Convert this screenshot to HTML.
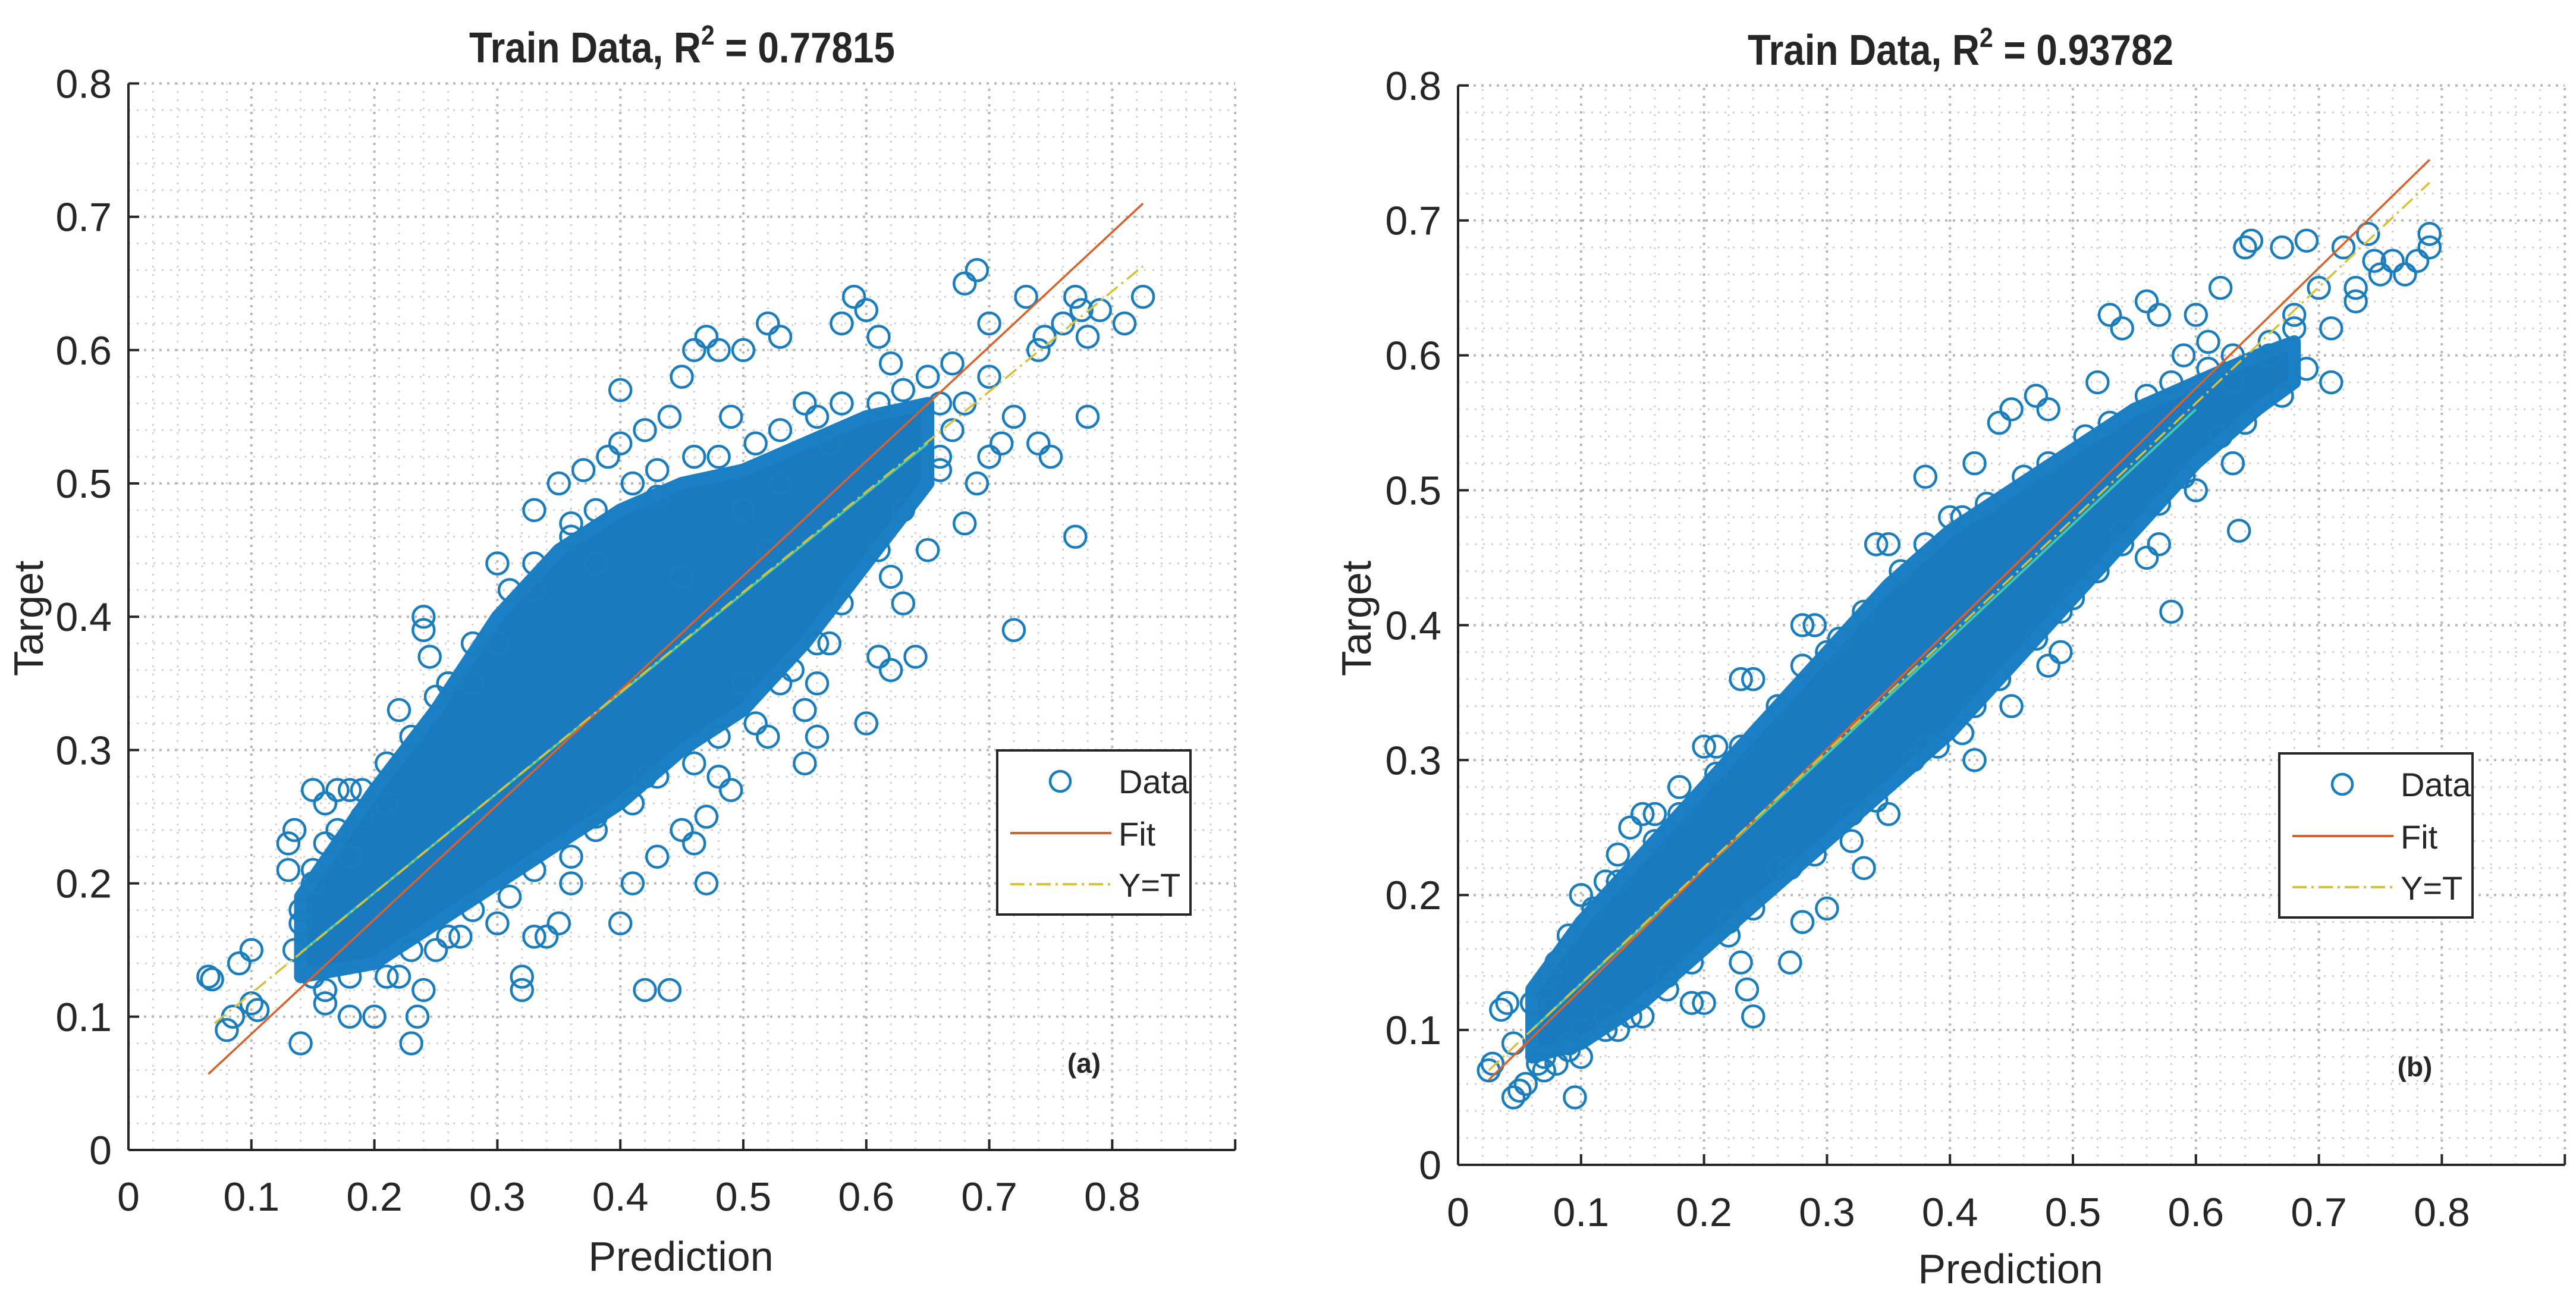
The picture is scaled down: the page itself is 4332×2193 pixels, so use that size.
<!DOCTYPE html>
<html><head><meta charset="utf-8"><style>
html,body{margin:0;padding:0;background:#fff;}
svg{display:block;}
text{font-family:"Liberation Sans",Arial,sans-serif;fill:#262626;}
</style></head><body>
<svg id="fig" width="4332" height="2193" viewBox="0 0 4332 2193" xmlns="http://www.w3.org/2000/svg"></svg>
<script>
// ---- data ----
const xTicks=[0,0.1,0.2,0.3,0.4,0.5,0.6,0.7,0.8];
const yTicks=[0,0.1,0.2,0.3,0.4,0.5,0.6,0.7,0.8];
const xTickLabels=["0","0.1","0.2","0.3","0.4","0.5","0.6","0.7","0.8"];
const yTickLabels=["0","0.1","0.2","0.3","0.4","0.5","0.6","0.7","0.8"];
const titlesR2=["0.77815","0.93782"];
// panel a dense core band
const coreAX=[0.14,0.2,0.25,0.3,0.35,0.4,0.45,0.5,0.55,0.6,0.65];
const coreALo=[0.13,0.14,0.17,0.2,0.23,0.26,0.3,0.33,0.38,0.44,0.5];
const coreAHi=[0.19,0.27,0.33,0.4,0.45,0.48,0.5,0.51,0.53,0.55,0.56];
const outAX=[0.065,0.068,0.08,0.085,0.09,0.1,0.1,0.105,0.13,0.135,0.13,0.14,0.15,0.16,0.17,0.18,0.19,0.2,0.21,0.22,0.23,0.235,0.24,0.24,0.24,0.245,0.25,0.26,0.3,0.32,0.32,0.33,0.34,0.35,0.33,0.35,0.37,0.39,0.4,0.4,0.42,0.42,0.44,0.4,0.41,0.44,0.45,0.46,0.47,0.48,0.5,0.52,0.53,0.49,0.47,0.46,0.47,0.48,0.49,0.43,0.45,0.55,0.56,0.56,0.57,0.58,0.59,0.6,0.61,0.62,0.6,0.61,0.62,0.63,0.62,0.64,0.65,0.65,0.67,0.68,0.68,0.69,0.7,0.7,0.69,0.7,0.71,0.72,0.72,0.73,0.74,0.745,0.76,0.77,0.775,0.78,0.79,0.81,0.825,0.77,0.78,0.74,0.75,0.68,0.66,0.57,0.55,0.53,0.5,0.52,0.43,0.45,0.38,0.3,0.28,0.33,0.36,0.55,0.52,0.54,0.5,0.42,0.38,0.36,0.3,0.27,0.25,0.22,0.18,0.16,0.15,0.14,0.15,0.16,0.18];
const outAY=[0.13,0.128,0.09,0.1,0.14,0.15,0.11,0.105,0.23,0.24,0.21,0.08,0.27,0.26,0.27,0.27,0.25,0.1,0.26,0.33,0.08,0.1,0.12,0.39,0.4,0.37,0.34,0.35,0.44,0.12,0.13,0.16,0.16,0.17,0.48,0.5,0.51,0.52,0.53,0.57,0.54,0.12,0.12,0.17,0.2,0.55,0.58,0.6,0.61,0.6,0.6,0.62,0.61,0.55,0.2,0.23,0.25,0.28,0.27,0.22,0.24,0.33,0.31,0.35,0.38,0.62,0.64,0.63,0.61,0.59,0.32,0.37,0.36,0.41,0.43,0.37,0.45,0.58,0.59,0.56,0.65,0.66,0.62,0.58,0.5,0.52,0.53,0.55,0.39,0.64,0.6,0.61,0.62,0.64,0.63,0.61,0.63,0.62,0.64,0.46,0.55,0.53,0.52,0.47,0.52,0.53,0.56,0.5,0.48,0.45,0.49,0.43,0.44,0.38,0.35,0.42,0.47,0.29,0.31,0.36,0.35,0.28,0.24,0.2,0.17,0.16,0.15,0.13,0.1,0.11,0.13,0.18,0.21,0.23,0.22];
const edgeAX=[0.15,0.17,0.19,0.21,0.23,0.26,0.28,0.31,0.33,0.36,0.38,0.41,0.43,0.46,0.48,0.51,0.53,0.56,0.58,0.61,0.63,0.66,0.16,0.18,0.21,0.23,0.26,0.28,0.31,0.33,0.36,0.38,0.41,0.43,0.46,0.48,0.51,0.53,0.56,0.58,0.61,0.63,0.66,0.67,0.135,0.14];
const edgeAY=[0.2,0.24,0.27,0.29,0.31,0.35,0.38,0.42,0.44,0.46,0.48,0.5,0.51,0.52,0.52,0.53,0.54,0.55,0.56,0.56,0.57,0.56,0.12,0.13,0.13,0.15,0.16,0.18,0.19,0.21,0.22,0.25,0.26,0.28,0.29,0.31,0.32,0.35,0.38,0.41,0.45,0.48,0.51,0.54,0.15,0.17];
const fitA=[[0.065,0.057],[0.825,0.71]];
const ytA=[[0.07,0.095],[0.825,0.663]];
const midA=[[0.14,0.148],[0.65,0.53]];
// panel b
const coreBX=[0.06,0.1,0.15,0.2,0.25,0.3,0.35,0.4,0.45,0.5,0.55,0.6,0.65,0.68];
const coreBLo=[0.08,0.09,0.12,0.16,0.2,0.24,0.28,0.32,0.37,0.42,0.47,0.52,0.56,0.58];
const coreBHi=[0.13,0.18,0.23,0.28,0.33,0.38,0.43,0.47,0.5,0.53,0.56,0.58,0.6,0.61];
const outBX=[0.025,0.028,0.035,0.04,0.045,0.045,0.05,0.055,0.065,0.07,0.075,0.07,0.08,0.09,0.095,0.1,0.09,0.1,0.12,0.13,0.14,0.15,0.16,0.18,0.2,0.21,0.23,0.24,0.26,0.28,0.29,0.3,0.34,0.35,0.38,0.4,0.42,0.44,0.45,0.47,0.48,0.52,0.53,0.54,0.56,0.57,0.59,0.6,0.61,0.62,0.63,0.64,0.645,0.67,0.69,0.7,0.71,0.72,0.73,0.74,0.745,0.75,0.76,0.77,0.78,0.79,0.79,0.73,0.71,0.68,0.66,0.63,0.635,0.6,0.58,0.57,0.56,0.54,0.52,0.5,0.49,0.48,0.47,0.45,0.44,0.42,0.41,0.38,0.35,0.34,0.33,0.32,0.3,0.28,0.27,0.26,0.24,0.235,0.23,0.22,0.2,0.19,0.17,0.15,0.13,0.12,0.1];
const outBY=[0.07,0.075,0.115,0.12,0.09,0.05,0.055,0.06,0.075,0.13,0.14,0.07,0.075,0.09,0.05,0.08,0.17,0.2,0.21,0.23,0.25,0.26,0.26,0.28,0.31,0.31,0.36,0.36,0.34,0.4,0.4,0.38,0.46,0.46,0.51,0.48,0.52,0.55,0.56,0.57,0.56,0.58,0.63,0.62,0.64,0.63,0.6,0.63,0.61,0.65,0.58,0.68,0.685,0.68,0.685,0.65,0.62,0.68,0.65,0.69,0.67,0.66,0.67,0.66,0.67,0.69,0.68,0.64,0.58,0.63,0.6,0.52,0.47,0.5,0.41,0.46,0.45,0.47,0.44,0.42,0.38,0.37,0.39,0.34,0.36,0.3,0.32,0.31,0.26,0.27,0.22,0.24,0.19,0.18,0.15,0.22,0.11,0.13,0.15,0.18,0.12,0.12,0.14,0.11,0.1,0.11,0.1];
const edgeBX=[0.06,0.08,0.11,0.13,0.16,0.18,0.21,0.23,0.26,0.28,0.31,0.33,0.36,0.38,0.41,0.43,0.46,0.48,0.51,0.53,0.56,0.58,0.61,0.63,0.66,0.68,0.07,0.09,0.12,0.14,0.17,0.19,0.22,0.24,0.27,0.29,0.32,0.34,0.37,0.39,0.42,0.44,0.47,0.49,0.52,0.54,0.57,0.59,0.62,0.64,0.67,0.69];
const edgeBY=[0.12,0.15,0.19,0.21,0.24,0.26,0.29,0.31,0.34,0.37,0.39,0.41,0.44,0.46,0.48,0.49,0.51,0.52,0.54,0.55,0.57,0.58,0.59,0.6,0.61,0.62,0.08,0.085,0.1,0.11,0.13,0.15,0.17,0.19,0.22,0.23,0.26,0.27,0.3,0.31,0.34,0.36,0.39,0.41,0.44,0.46,0.49,0.51,0.54,0.55,0.57,0.59];
const fitB=[[0.025,0.063],[0.79,0.745]];
const ytB=[[0.025,0.07],[0.79,0.728]];
const midB=[[0.06,0.1],[0.6,0.56]];

const NS="http://www.w3.org/2000/svg";
const svg=document.getElementById('fig');
function mk(tag,attrs,parent){const e=document.createElementNS(NS,tag);for(const k in attrs)e.setAttribute(k,attrs[k]);(parent||svg).appendChild(e);return e;}

function panel(o){
  const g=mk('g',{});
  
  
  const sx=v=>o.x0+v*o.px*10;
  const sy=v=>o.y0-v*o.py*10;
  for(let i=0;i<=45;i++){const v=i*0.02;if(i%5===0)continue;
    mk('line',{x1:sx(v),y1:sy(0),x2:sx(v),y2:sy(0.8),stroke:'#d0d0d0','stroke-width':3,'stroke-dasharray':'3 11'},g);}
  for(let i=0;i<=40;i++){const v=i*0.02;if(i%5===0)continue;
    mk('line',{x1:sx(0),y1:sy(v),x2:sx(0.9),y2:sy(v),stroke:'#d0d0d0','stroke-width':3,'stroke-dasharray':'3 11'},g);}
  for(let i=1;i<=9;i++){const v=i*0.1;
    const l=mk('line',{x1:sx(v),y1:sy(0),x2:sx(v),y2:sy(0.8),stroke:'#b8b8b8','stroke-width':4,'stroke-dasharray':'4 9'},g);
    }
  for(let i=1;i<=8;i++){const v=i*0.1;
    const l=mk('line',{x1:sx(0),y1:sy(v),x2:sx(0.9),y2:sy(v),stroke:'#b8b8b8','stroke-width':4,'stroke-dasharray':'4 9'},g);
    }
  let pts=[];
  o.cx.forEach((x,i)=>pts.push(sx(x)+','+sy(o.chi[i])));
  for(let i=o.cx.length-1;i>=0;i--)pts.push(sx(o.cx[i])+','+sy(o.clo[i]));
  const core=mk('polygon',{points:pts.join(' '),fill:'#1b79c0',stroke:'#1a7fc4','stroke-width':22,'stroke-linejoin':'round'},g);
  
  
  const allX=o.ox.concat(o.ex), allY=o.oy.concat(o.ey);
  allX.forEach((x,i)=>{
    const c=mk('circle',{cx:sx(x),cy:sy(allY[i]),r:18,fill:'none',stroke:'#1a7dbd','stroke-width':4.5},g);
    
    
  });
  const ln=(p,st,w,dash,nm)=>{const l=mk('line',{x1:sx(p[0][0]),y1:sy(p[0][1]),x2:sx(p[1][0]),y2:sy(p[1][1]),stroke:st,'stroke-width':w},g);if(dash)l.setAttribute('stroke-dasharray',dash);
    
    };
  ln(o.mid,'#3fc7b0',4,null,'center-line');
  ln(o.fit,'#d9622b',3.5,null,'fit-line');
  ln(o.yt,'#d6c23a',3.5,'24 8 4 8','y-equals-t-line');
  const ax=mk('line',{x1:sx(0),y1:sy(0),x2:sx(0.9),y2:sy(0),stroke:'#262626','stroke-width':4},g);
  
  const ay=mk('line',{x1:sx(0),y1:sy(0),x2:sx(0),y2:sy(0.8),stroke:'#262626','stroke-width':4},g);
  
  xTicks.forEach((v,i)=>{
    mk('line',{x1:sx(v),y1:sy(0),x2:sx(v),y2:sy(0)-18,stroke:'#262626','stroke-width':4},g);
    const t=mk('text',{x:sx(v),y:o.xlabY,'text-anchor':'middle','font-size':68},g);t.textContent=xTickLabels[i];
    
  });
  mk('line',{x1:sx(0.9),y1:sy(0),x2:sx(0.9),y2:sy(0)-18,stroke:'#262626','stroke-width':4},g);
  yTicks.forEach((v,i)=>{
    mk('line',{x1:sx(0),y1:sy(v),x2:sx(0)+18,y2:sy(v),stroke:'#262626','stroke-width':4},g);
    const t=mk('text',{x:o.ylabX,y:sy(v)+24,'text-anchor':'end','font-size':68},g);t.textContent=yTickLabels[i];
    
  });
  const xt=mk('text',{x:o.xTitle[0],y:o.xTitle[1],'text-anchor':'middle','font-size':70},g);xt.textContent='Prediction';
  
  const yt=mk('text',{x:0,y:0,'text-anchor':'middle','font-size':70,transform:`translate(${o.yTitle[0]},${o.yTitle[1]}) rotate(-90)`},g);yt.textContent='Target';
  
  const tt=mk('text',{x:o.title[0],y:o.title[1],'text-anchor':'middle','font-size':72,'font-weight':'bold','textLength':716,'lengthAdjust':'spacingAndGlyphs'},g);
  tt.innerHTML='Train Data, R<tspan dy="-30" font-size="46">2</tspan><tspan dy="30"> = '+o.r2+'</tspan>';
  
  const pl=mk('text',{x:o.plab[0],y:o.plab[1],'text-anchor':'middle','font-size':46,'font-weight':'bold'},g);pl.textContent=o.plabel;
  
  const L=o.leg;
  const lg=mk('g',{},g);
  
  
  mk('rect',{x:L[0],y:L[1],width:325,height:276,fill:'#fff',stroke:'#262626','stroke-width':4},lg);
  mk('circle',{cx:L[0]+106,cy:L[1]+52,r:17,fill:'none',stroke:'#1a7dbd','stroke-width':4.5},lg);
  mk('line',{x1:L[0]+22,y1:L[1]+139,x2:L[0]+192,y2:L[1]+139,stroke:'#d9622b','stroke-width':4},lg);
  mk('line',{x1:L[0]+22,y1:L[1]+225,x2:L[0]+192,y2:L[1]+225,stroke:'#d6c23a','stroke-width':4,'stroke-dasharray':'24 8 4 8'},lg);
  [['Data',72],['Fit',160],['Y=T',246]].forEach(d=>{const t=mk('text',{x:L[0]+204,y:L[1]+d[1],'font-size':56},lg);t.textContent=d[0];
    });
}
panel({name:'panel-a',x0:216,px:206.8,y0:1934,py:224.2,cx:coreAX,clo:coreALo,chi:coreAHi,ox:outAX,oy:outAY,ex:edgeAX,ey:edgeAY,fit:fitA,yt:ytA,mid:midA,
  xlabY:2036,ylabX:188,xTitle:[1145,2137],yTitle:[72,1040],title:[1147,105],r2:titlesR2[0],plab:[1823,1804],plabel:'(a)',leg:[1677,1262]});
panel({name:'panel-b',x0:2452,px:206.8,y0:1959,py:226.9,cx:coreBX,clo:coreBLo,chi:coreBHi,ox:outBX,oy:outBY,ex:edgeBX,ey:edgeBY,fit:fitB,yt:ytB,mid:midB,
  xlabY:2062,ylabX:2424,xTitle:[3381,2158],yTitle:[2305,1040],title:[3297,109],r2:titlesR2[1],plab:[4061,1810],plabel:'(b)',leg:[3833,1267]});
</script>
</body></html>
